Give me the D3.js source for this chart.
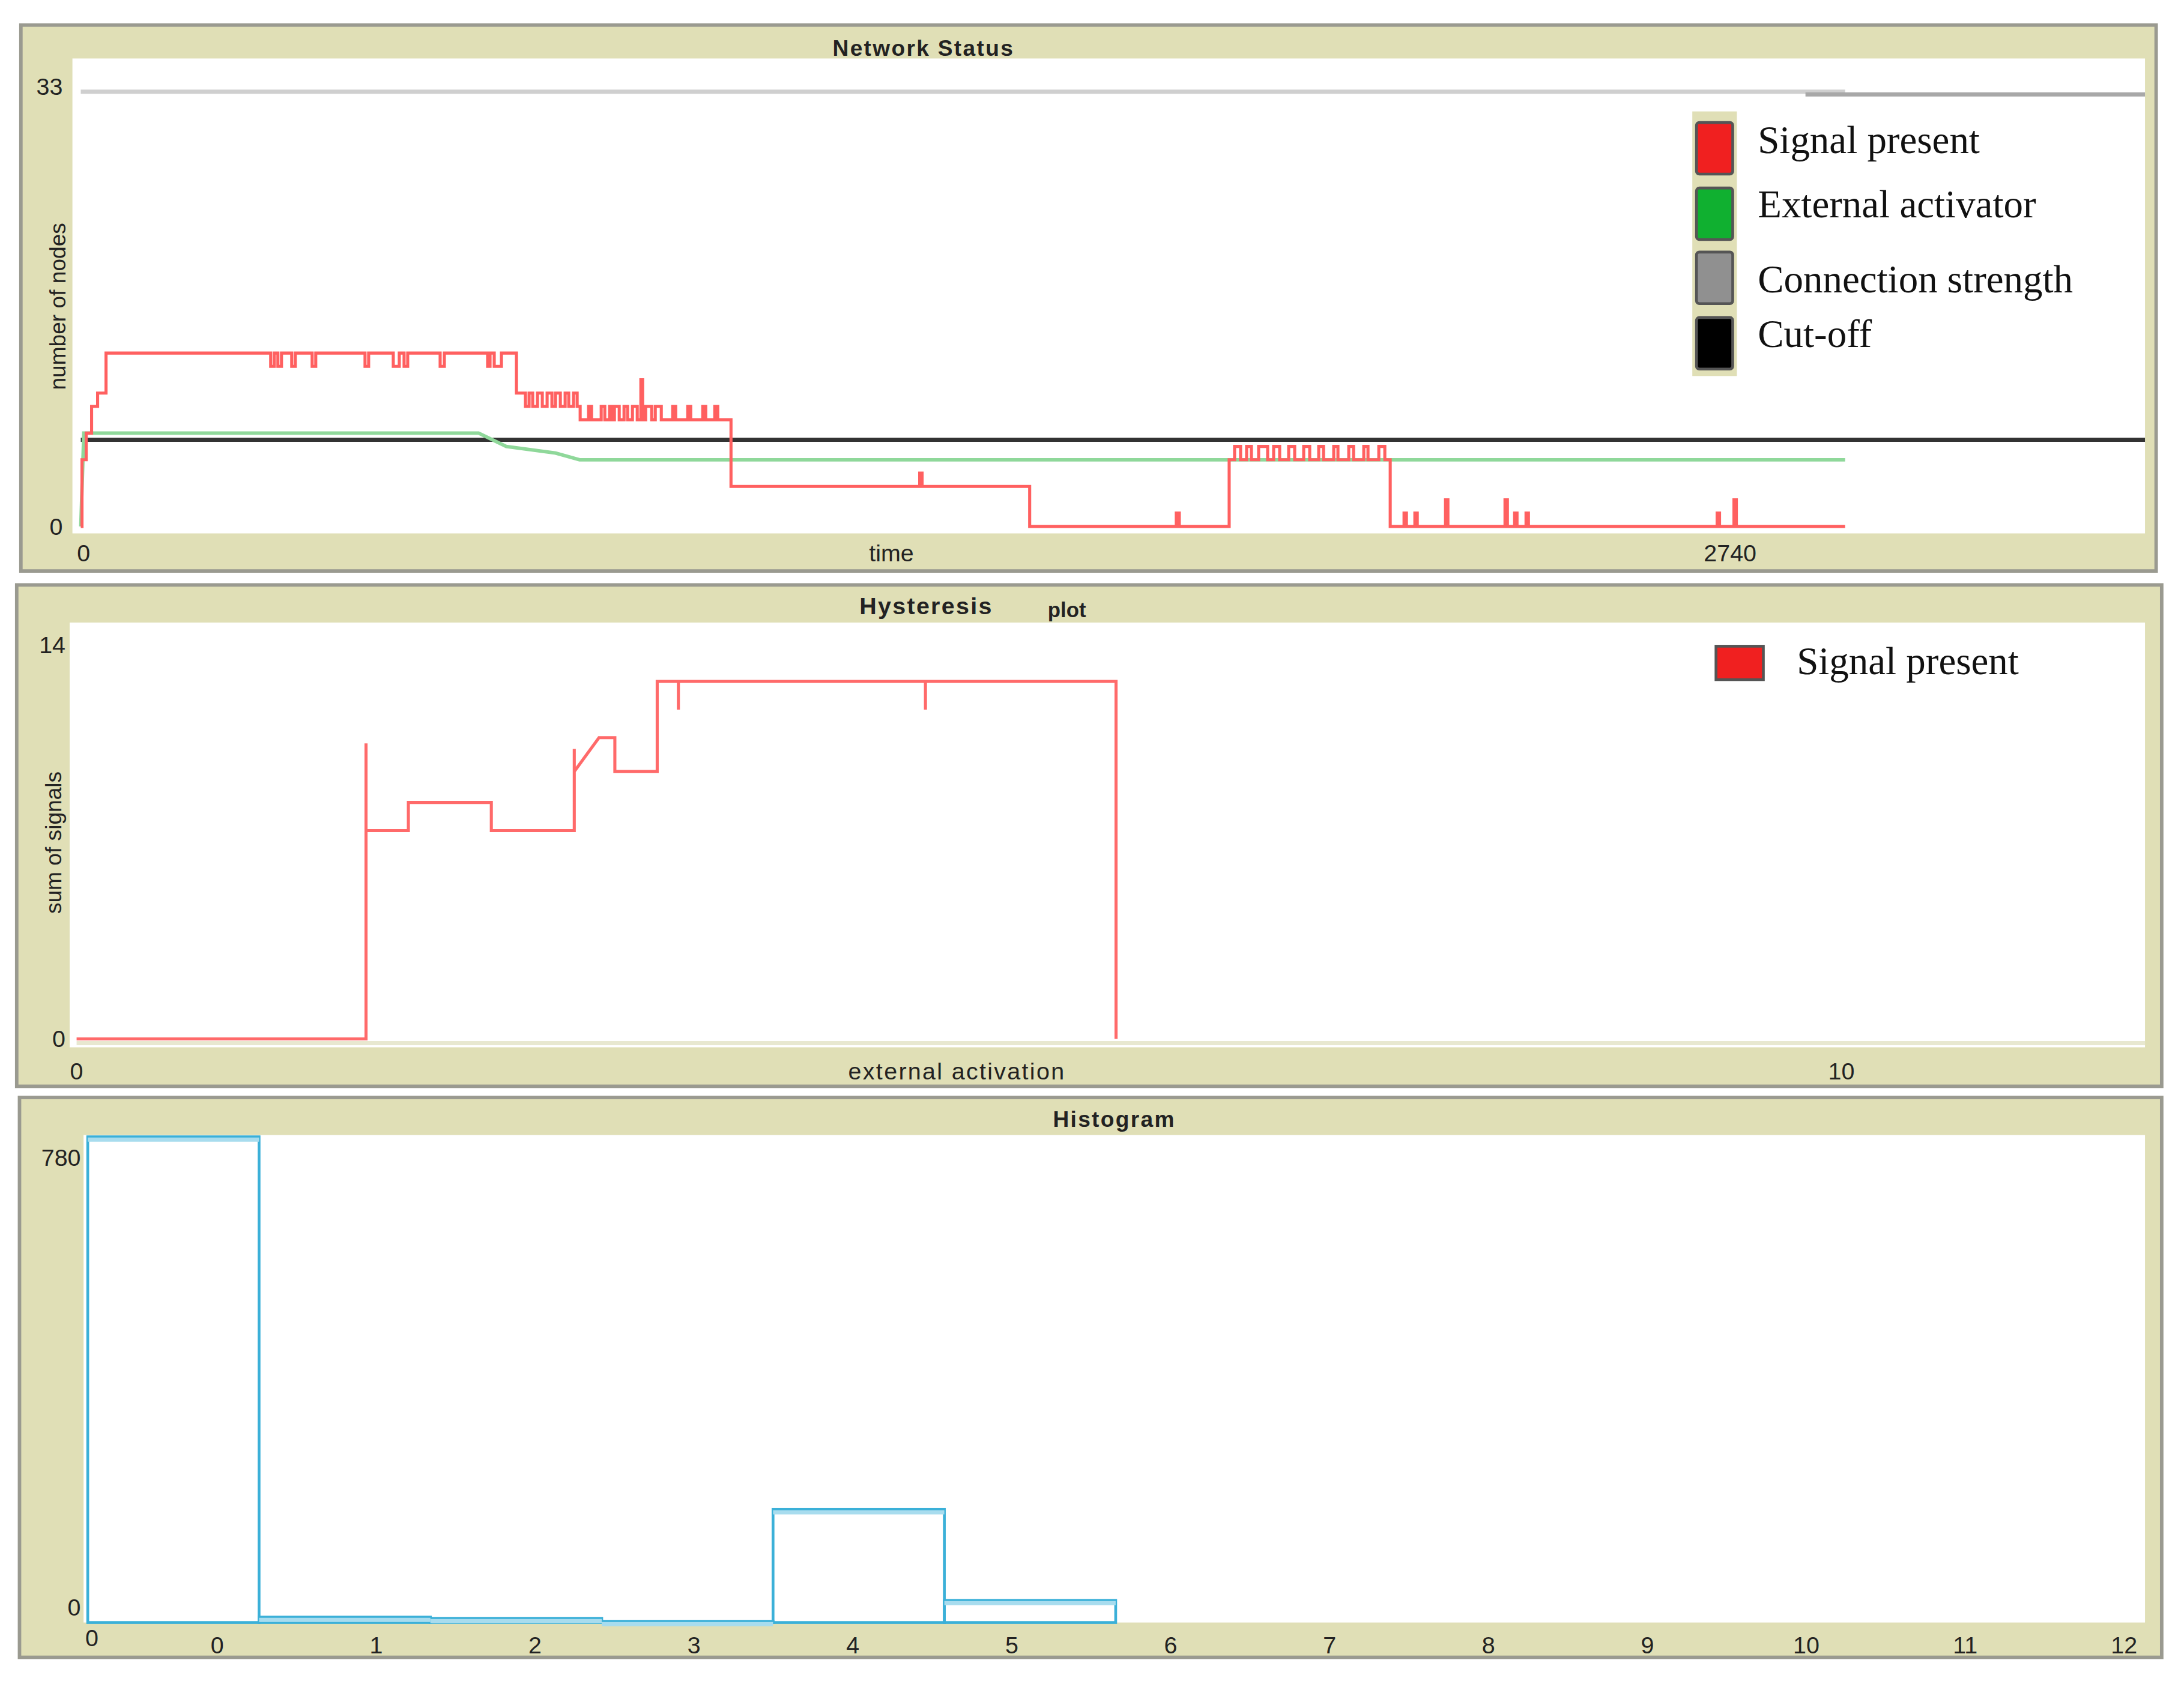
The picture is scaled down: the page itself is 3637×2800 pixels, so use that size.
<!DOCTYPE html>
<html><head><meta charset="utf-8">
<script src="https://cdn.jsdelivr.net/npm/d3@7"></script>
<style>body{margin:0;background:#fff}</style></head>
<body><svg id="c"></svg>
<script>
// ---------- DATA ----------
const netTitle = "Network Status";
const hystTitle = "Hysteresis";
const histTitle = "Histogram";
const legendLabels = ["Signal present","External activator","Connection strength","Cut-off"];
const legendColors = ["#f02020","#10b030","#909090","#000000"];
// Network status: [time, nodes]
const signalSeries = [[0,0],[2,5],[9,7],[18,9],[28,10],[42,13],[316,12],[322,13],[328,12],[334,13],[351,12],[357,13],[385,12],[391,13],[473,12],[479,13],[520,12],[530,13],[538,12],[544,13],[598,12],[605,13],[677,12],[681,13],[688,12],[700,13],[725,10],[740,9],[746,10],[752,9],[760,10],[768,9],[776,10],[784,9],[790,10],[798,9],[806,10],[812,9],[820,10],[826,9],[831,8],[845,9],[850,8],[866,9],[872,8],[880,9],[884,8],[888,9],[896,8],[904,9],[910,8],[918,9],[926,8],[932,11],[935,8],[940,9],[950,8],[956,9],[966,8],[985,9],[990,8],[1010,9],[1015,8],[1035,9],[1040,8],[1055,9],[1060,8],[1082,3],[1396,4],[1400,3],[1579,0],[1823,1],[1828,0],[1911,5],[1920,6],[1930,5],[1940,6],[1948,5],[1960,6],[1975,5],[1985,6],[1995,5],[2010,6],[2020,5],[2035,6],[2045,5],[2060,6],[2068,5],[2085,6],[2092,5],[2110,6],[2118,5],[2135,6],[2142,5],[2160,6],[2170,5],[2179,0],[2202,1],[2206,0],[2220,1],[2224,0],[2271,2],[2275,0],[2370,2],[2374,0],[2386,1],[2390,0],[2405,1],[2409,0],[2723,1],[2727,0],[2751,2],[2755,0],[2936,0]];
const activatorSeries = [[0,0],[5,7],[662,7],[708,6],[790,5.5],[830,5],[2936,5]];
const strengthSeries = [[0,32.6],[2936,32.6]];
const strengthSeries2 = [[2870,32.4],[3435,32.4]];
const cutoffSeries = [[0,6.5],[3435,6.5]];
const netYTicks = [0,33];
const netXTicks = [0,2740];
// Hysteresis: [external activation, sum of signals]
const hystSeries = [[0,0],[1.64,0],[1.64,10.5],[1.64,7.4],[1.88,7.4],[1.88,8.4],[2.35,8.4],[2.35,7.4],[2.82,7.4],[2.82,10.3],[2.82,9.5],[2.96,10.7],[3.05,10.7],[3.05,9.5],[3.29,9.5],[3.29,12.7],[3.41,12.7],[3.41,11.7],[3.41,12.7],[4.81,12.7],[4.81,11.7],[4.81,12.7],[5.89,12.7],[5.89,0]];
const hystYTicks = [0,14];
const hystXTicks = [0,10];
// Histogram
const histBins = [0,1,2,3,4,5];
const histCounts = [812,9,7,2,189,37];
const histYTicks = [0,780];
const histXLabels = [0,1,2,3,4,5,6,7,8,9,10,11,12];

// ---------- DRAW ----------
const W=1568,H=1207;
const svg=d3.select("#c").attr("width",3637).attr("height",2800)
  .attr("viewBox",`0 0 ${W} ${H}`).attr("preserveAspectRatio","none");
const beige="#e0dfb6", sans="Liberation Sans, Arial, sans-serif";
function panel(x,y,w,h,px,py,pw,ph){
  svg.append("rect").attr("x",x).attr("y",y).attr("width",w).attr("height",h)
    .attr("fill",beige).attr("stroke","#9a9a90").attr("stroke-width",2.5);
  svg.append("rect").attr("x",px).attr("y",py).attr("width",pw).attr("height",ph).attr("fill","#fff");
}
function label(x,y,t,o={}){
  const e=svg.append("text").attr("x",x).attr("y",y).text(t)
    .attr("font-family",o.ff||sans).attr("font-size",o.fs||15).attr("fill",o.fill||"#222")
    .attr("text-anchor",o.a||"middle").attr("font-weight",o.fw||"normal");
  if(o.rot) e.attr("transform",`rotate(-90,${x},${y})`);
  if(o.ls) e.attr("letter-spacing",o.ls);
  return e;
}
// Panel 1
panel(15,18,1533,392,52,42,1488,341);
label(663,40,netTitle,{fw:"bold",fs:16,ls:1});
const x1=d3.scaleLinear().domain([0,3435]).range([58,1540]);
const y1=d3.scaleLinear().domain([0,33]).range([378,62]);
const l1=d3.line().x(d=>x1(d[0])).y(d=>y1(d[1]));
const s1=d3.line().x(d=>x1(d[0])).y(d=>y1(d[1])).curve(d3.curveStepAfter);
svg.append("path").attr("d",l1(strengthSeries)).attr("stroke","#cfcfcf").attr("stroke-width",3).attr("fill","none");
svg.append("path").attr("d",l1(strengthSeries2)).attr("stroke","#a8a8a8").attr("stroke-width",3).attr("fill","none");
svg.append("path").attr("d",l1(cutoffSeries)).attr("stroke","#333").attr("stroke-width",3).attr("fill","none");
svg.append("path").attr("d",l1(activatorSeries)).attr("stroke","#8fd89a").attr("stroke-width",2.5).attr("fill","none");
svg.append("path").attr("d",s1(signalSeries)).attr("stroke","#ff6060").attr("stroke-width",2.2).attr("fill","none");
netYTicks.forEach(v=>label(45,y1(v)+6,v,{a:"end",fs:17}));
netXTicks.forEach(v=>label(x1(v)+2,403,v,{fs:17}));
label(640,403,"time",{fs:17});
label(47,220,"number of nodes",{rot:true,fs:16});
// legend
const lg=svg.append("g");
lg.append("rect").attr("x",1215).attr("y",80).attr("width",32).attr("height",190).attr("fill",beige);
legendColors.forEach((c,i)=>{
  const ys=[88,135,181,228][i];
  lg.append("rect").attr("x",1218).attr("y",ys).attr("width",26).attr("height",37)
    .attr("fill",c).attr("stroke","#555").attr("stroke-width",2).attr("rx",2);
  label(1262,[110,156,210,249][i],legendLabels[i],{a:"start",fs:28,ff:"Liberation Serif, serif",fill:"#111"});
});
// Panel 2
panel(12,420,1540,360,50,447,1490,305);
label(665,441,hystTitle,{fw:"bold",fs:17,ls:1});
label(766,443,"plot",{fw:"bold",fs:15});
const x2=d3.scaleLinear().domain([0,10]).range([55,1322]);
const y2=d3.scaleLinear().domain([0,14]).range([746,463]);
const l2=d3.line().x(d=>x2(d[0])).y(d=>y2(d[1]));
svg.append("line").attr("x1",55).attr("x2",1540).attr("y1",749).attr("y2",749).attr("stroke","#e8e8d0").attr("stroke-width",3);
svg.append("path").attr("d",l2(hystSeries)).attr("stroke","#ff6a6a").attr("stroke-width",2.2).attr("fill","none");
hystYTicks.forEach(v=>label(47,y2(v)+6,v,{a:"end",fs:17}));
hystXTicks.forEach(v=>label(x2(v),775,v,{fs:17}));
label(687,775,"external activation",{fs:17,ls:1});
label(44,605,"sum of signals",{rot:true,fs:16});
svg.append("rect").attr("x",1232).attr("y",464).attr("width",34).attr("height",24).attr("fill","#f02020").attr("stroke","#555").attr("stroke-width",2);
label(1290,484,legendLabels[0],{a:"start",fs:28,ff:"Liberation Serif, serif",fill:"#111"});
// Panel 3
panel(14,788,1538,402,60,815,1480,350);
label(800,809,histTitle,{fw:"bold",fs:16,ls:1});
const x3=d3.scaleLinear().domain([0,12]).range([63,1539]);
const y3=d3.scaleLinear().domain([0,780]).range([1165,830]);
const bars=histBins.map((b,i)=>({b,c:histCounts[i]}));
svg.selectAll(".bar").data(bars).enter().append("rect")
  .attr("x",d=>x3(d.b)).attr("width",x3(1)-x3(0)).attr("y",d=>y3(d.c)).attr("height",d=>y3(0)-y3(d.c))
  .attr("fill","none").attr("stroke","#3bb0d8").attr("stroke-width",2);
svg.selectAll(".bartop").data(bars).enter().append("line")
  .attr("x1",d=>x3(d.b)).attr("x2",d=>x3(d.b+1)).attr("y1",d=>y3(d.c)+2).attr("y2",d=>y3(d.c)+2)
  .attr("stroke","#a8dcee").attr("stroke-width",3);
histYTicks.forEach(v=>label(58,y3(v)+(v?7:-5),v,{a:"end",fs:17}));
label(66,1182,0,{fs:17});
const xl=d3.scaleLinear().domain([0,12]).range([156,1525]);
histXLabels.forEach(v=>label(xl(v),1187,v,{fs:17}));
</script></body></html>
